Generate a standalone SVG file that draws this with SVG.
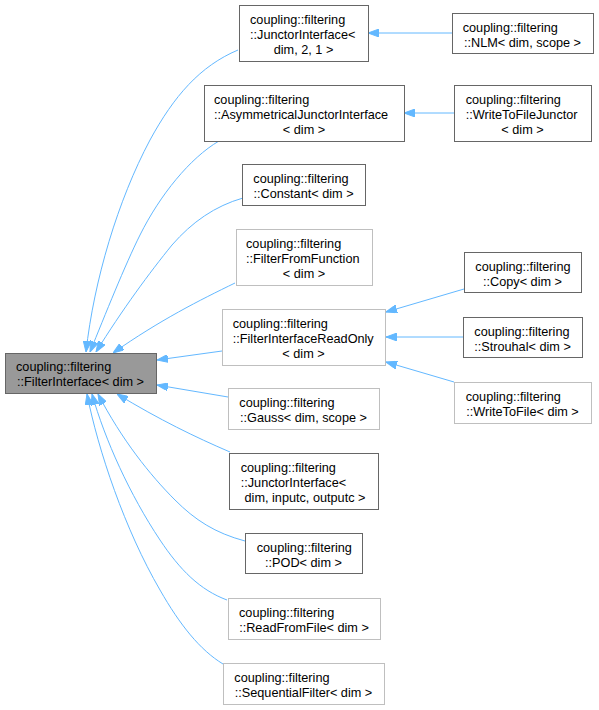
<svg xmlns="http://www.w3.org/2000/svg" width="599" height="710" viewBox="0 0 599 710">
<style>
.n rect{fill:#ffffff;stroke-width:1}
.d rect{stroke:#666666}
.l rect{stroke:#bfbfbf}
.f rect{fill:#999999;stroke:#666666}
text{font-family:"Liberation Sans",Arial,Helvetica,sans-serif;font-size:12.7px;fill:#000000}
.m{text-anchor:middle}
.e path{fill:none;stroke:#63b8ff;stroke-width:1;marker-end:url(#ah)}
</style>
<defs>
<marker id="ah" viewBox="0 0 11 8" refX="11" refY="4" markerWidth="11" markerHeight="8" markerUnits="userSpaceOnUse" orient="auto">
<path d="M0,0 L11,4 L0,8 Z" fill="#63b8ff" stroke="#63b8ff" stroke-width="1"/>
</marker>
</defs>
<rect width="599" height="710" fill="#ffffff"/>
<g class="e" id="edges">
<path d="M238,50 C200,66 174,96 150,140 C118,200 94,280 86,352"/>
<path d="M219,141 C190,158 160,195 140,235 C125,265 105,315 90,352"/>
<path d="M243,198 C215,206 192,222 172,245 C150,272 122,310 96,352"/>
<path d="M235,283 C200,300 160,320 113,353"/>
<path d="M222,351 L157,360"/>
<path d="M228,397 L157,385"/>
<path d="M230,452 C195,437 160,420 117,394"/>
<path d="M245,541 C215,533 195,520 175,500 C150,475 122,440 98,394"/>
<path d="M227,600 C200,590 180,570 160,540 C130,495 105,440 92,394"/>
<path d="M223,664 C200,650 180,625 160,590 C125,530 98,450 87,394"/>
<path d="M452,33 L368,33"/>
<path d="M454,113 L404,113"/>
<path d="M464,289 L386,312"/>
<path d="M463,337 L386,337"/>
<path d="M454,382 L386,362"/>
</g>
<g id="FilterInterface" class="n f"><rect x="5.5" y="353.5" width="151" height="40"/><text x="16" y="371">coupling::filtering</text><text class="m" x="80.5" y="386">::FilterInterface&lt; dim &gt;</text></g>
<g id="JunctorInterface21" class="n d"><rect x="239.5" y="5.5" width="129" height="56"/><text x="250" y="23.5">coupling::filtering</text><text x="250" y="38.5">::JunctorInterface&lt;</text><text class="m" x="303.5" y="53.5">dim, 2, 1 &gt;</text></g>
<g id="AsymmetricalJunctorInterface" class="n d"><rect x="204.5" y="85.5" width="200" height="56"/><text x="214" y="103.5">coupling::filtering</text><text x="214" y="118.5">::AsymmetricalJunctorInterface</text><text class="m" x="304" y="133.5">&lt; dim &gt;</text></g>
<g id="Constant" class="n d"><rect x="242.5" y="164.5" width="123" height="41"/><text x="253.3" y="182.5">coupling::filtering</text><text class="m" x="303.5" y="197.5">::Constant&lt; dim &gt;</text></g>
<g id="FilterFromFunction" class="n l"><rect x="236.5" y="229.5" width="136" height="56"/><text x="246" y="247.5">coupling::filtering</text><text x="246" y="262.5">::FilterFromFunction</text><text class="m" x="304" y="277.5">&lt; dim &gt;</text></g>
<g id="FilterInterfaceReadOnly" class="n l"><rect x="222.5" y="309.5" width="163" height="56"/><text x="232.7" y="327.5">coupling::filtering</text><text x="232.7" y="342.5">::FilterInterfaceReadOnly</text><text class="m" x="303.5" y="357.5">&lt; dim &gt;</text></g>
<g id="Gauss" class="n l"><rect x="228.5" y="388.5" width="151" height="41"/><text x="239.3" y="406.5">coupling::filtering</text><text class="m" x="303.5" y="421.5">::Gauss&lt; dim, scope &gt;</text></g>
<g id="JunctorInterfaceIO" class="n d"><rect x="229.5" y="453.5" width="149" height="56"/><text x="240.7" y="471.5">coupling::filtering</text><text x="240.7" y="486.5">::JunctorInterface&lt;</text><text class="m" x="305" y="501.5">dim, inputc, outputc &gt;</text></g>
<g id="POD" class="n d"><rect x="245.5" y="533.5" width="117" height="40"/><text x="256.7" y="551.5">coupling::filtering</text><text class="m" x="303.5" y="566.5">::POD&lt; dim &gt;</text></g>
<g id="ReadFromFile" class="n l"><rect x="228.5" y="598.5" width="152" height="41"/><text x="239" y="616.5">coupling::filtering</text><text class="m" x="304" y="631.5">::ReadFromFile&lt; dim &gt;</text></g>
<g id="SequentialFilter" class="n l"><rect x="223.5" y="663.5" width="161" height="41"/><text x="234.3" y="681.5">coupling::filtering</text><text class="m" x="303.5" y="696.5">::SequentialFilter&lt; dim &gt;</text></g>
<g id="NLM" class="n d"><rect x="452.5" y="13.5" width="141" height="40"/><text x="462.7" y="31.5">coupling::filtering</text><text class="m" x="522.5" y="46.5">::NLM&lt; dim, scope &gt;</text></g>
<g id="WriteToFileJunctor" class="n d"><rect x="454.5" y="85.5" width="137" height="56"/><text x="465.7" y="103.5">coupling::filtering</text><text x="465.7" y="118.5">::WriteToFileJunctor</text><text class="m" x="522.5" y="133.5">&lt; dim &gt;</text></g>
<g id="Copy" class="n d"><rect x="464.5" y="252.5" width="117" height="40"/><text x="475.3" y="270.5">coupling::filtering</text><text class="m" x="522.5" y="285.5">::Copy&lt; dim &gt;</text></g>
<g id="Strouhal" class="n d"><rect x="463.5" y="317.5" width="119" height="40"/><text x="474.3" y="335.5">coupling::filtering</text><text class="m" x="522.5" y="350.5">::Strouhal&lt; dim &gt;</text></g>
<g id="WriteToFile" class="n l"><rect x="454.5" y="382.5" width="137" height="41"/><text x="465.7" y="400.5">coupling::filtering</text><text class="m" x="522.5" y="415.5">::WriteToFile&lt; dim &gt;</text></g>
</svg>
